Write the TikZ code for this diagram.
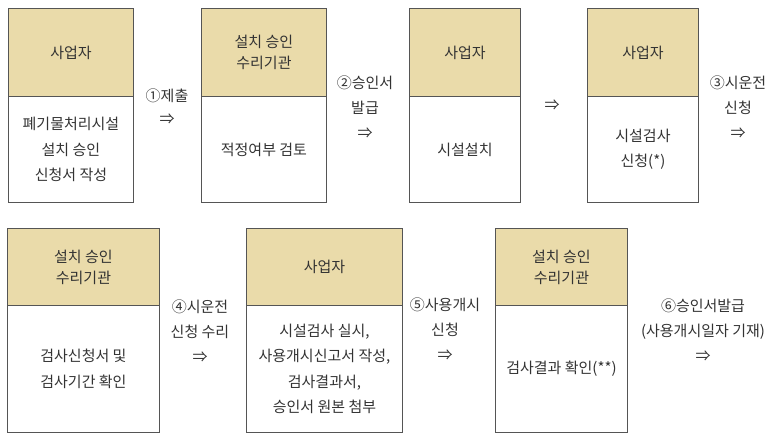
\documentclass[tikz,border=0pt]{standalone}
\usepackage{fontspec}
\setmainfont{Noto Sans CJK KR}
\definecolor{headfill}{HTML}{EADBAA}
\definecolor{edge}{HTML}{555555}
\definecolor{txt}{HTML}{333333}
\tikzset{
  head/.style={draw=edge, line width=0.9pt, fill=headfill, anchor=north west, inner sep=0pt, align=center, text=txt, font=\fontsize{15}{21}\selectfont},
  body/.style={draw=edge, line width=0.9pt, fill=white, anchor=north west, inner sep=0pt, align=center, text=txt, font=\fontsize{15}{25.5}\selectfont},
  lbl/.style={align=center, text=txt, inner sep=0pt, font=\fontsize{15}{25}\selectfont}
}
\begin{document}
\begin{tikzpicture}[x=1pt,y=-1pt]
\useasboundingbox (0,0) rectangle (780,441);
% Row 1
\node[head, minimum width=125pt, minimum height=88pt] (h1) at (8,8) {사업자};
\node[body, minimum width=125pt, minimum height=106pt] (b1) at (8,96) {폐기물처리시설\\설치 승인\\신청서 작성};
\node[head, minimum width=125pt, minimum height=88pt] (h2) at (201,8) {설치 승인\\수리기관};
\node[body, minimum width=125pt, minimum height=106pt] (b2) at (201,96) {적정여부 검토};
\node[head, minimum width=111pt, minimum height=88pt] (h3) at (409,8) {사업자};
\node[body, minimum width=111pt, minimum height=106pt] (b3) at (409,96) {시설설치};
\node[head, minimum width=111pt, minimum height=88pt] (h4) at (587,8) {사업자};
\node[body, minimum width=111pt, minimum height=106pt] (b4) at (587,96) {시설검사\\신청(*)};
\node[lbl, font=\fontsize{15}{23}\selectfont] (l1) at (167,106.5) {①제출\\⇒};
\node[lbl] (l2) at (365,107) {②승인서\\발급\\⇒};
\node[lbl] (l3) at (552,105) {⇒};
\node[lbl] (l4) at (738,107) {③시운전\\신청\\⇒};
% Row 2
\node[head, minimum width=152pt, minimum height=77pt] (h5) at (7,228) {설치 승인\\수리기관};
\node[body, minimum width=152pt, minimum height=127pt] (b5) at (7,305) {검사신청서 및\\검사기간 확인};
\node[head, minimum width=156pt, minimum height=77pt] (h6) at (246,228) {사업자};
\node[body, minimum width=156pt, minimum height=127pt] (b6) at (246,305) {시설검사 실시,\\사용개시신고서 작성,\\검사결과서,\\승인서 원본 첨부};
\node[head, minimum width=132pt, minimum height=77pt] (h7) at (495,228) {설치 승인\\수리기관};
\node[body, minimum width=132pt, minimum height=127pt] (b7) at (495,305) {검사결과 확인(**)};
\node[lbl] (l5) at (200,331) {④시운전\\신청 수리\\⇒};
\node[lbl] (l6) at (445,329) {⑤사용개시\\신청\\⇒};
\node[lbl] (l7) at (703,330) {⑥승인서발급\\(사용개시일자 기재)\\⇒};
\end{tikzpicture}
\end{document}
